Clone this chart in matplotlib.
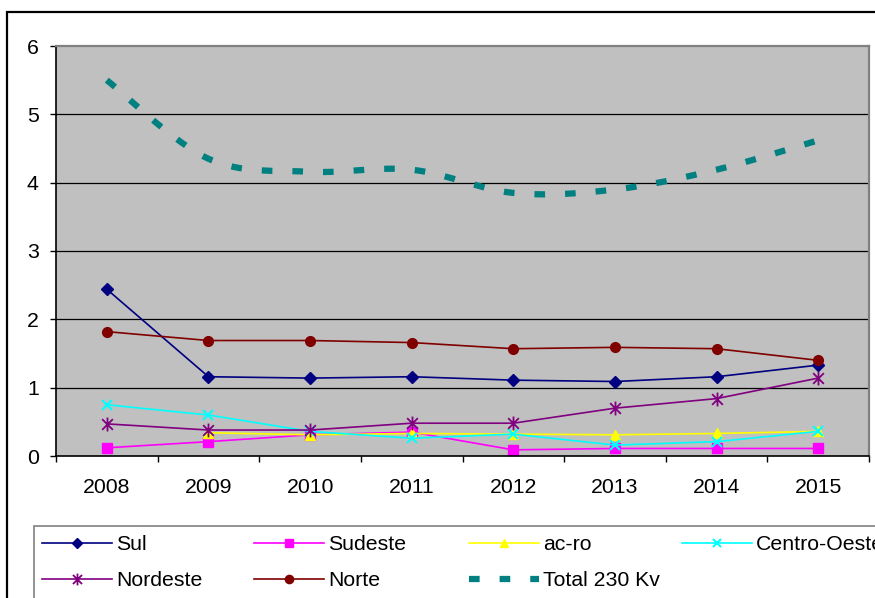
import numpy as np
import matplotlib
matplotlib.use("Agg")
import matplotlib.pyplot as plt
from matplotlib.path import Path
from matplotlib.patches import Rectangle
from matplotlib.ticker import FixedLocator

# ---- data ----
years = ["2008", "2009", "2010", "2011", "2012", "2013", "2014", "2015"]
sul = [2.44, 1.16, 1.14, 1.16, 1.11, 1.09, 1.16, 1.33]
sudeste = [0.12, 0.21, 0.31, 0.35, 0.09, 0.11, 0.11, 0.11]
acro = [None, 0.34, 0.31, 0.33, 0.32, 0.31, 0.33, 0.36]
centro_oeste = [0.75, 0.60, 0.36, 0.26, 0.32, 0.16, 0.21, 0.36]
nordeste = [0.47, 0.38, 0.38, 0.48, 0.48, 0.70, 0.84, 1.14]
norte = [1.82, 1.69, 1.69, 1.66, 1.57, 1.59, 1.57, 1.40]
total = [5.50, 4.35, 4.16, 4.19, 3.85, 3.90, 4.19, 4.62]
yticks = [0, 1, 2, 3, 4, 5, 6]

W, H = 875, 598
fig = plt.figure(figsize=(W / 100, H / 100), dpi=100)
plt.rcParams['font.family'] = ['Liberation Sans', 'DejaVu Sans']
FS = 15.3

def fx(px):
    return px / W

def fy(py):
    return 1 - py / H

L, R, T, B = 56, 869, 46, 456
ax = fig.add_axes([fx(L), fy(B), fx(R) - fx(L), fy(T) - fy(B)])
ax.set_facecolor('#C0C0C0')

x = np.arange(len(years))

def smooth(xs, ys, n=30):
    xs = np.asarray(xs, float)
    ys = np.asarray(ys, float)
    P = np.column_stack([xs, ys])
    P = np.vstack([P[0], P, P[-1]])
    out = []
    for i in range(1, len(P) - 2):
        p0, p1, p2, p3 = P[i - 1], P[i], P[i + 1], P[i + 2]
        t = np.linspace(0, 1, n)[:, None]
        c1 = p1 + (p2 - p0) / 6.0
        c2 = p2 - (p3 - p1) / 6.0
        seg = ((1 - t) ** 3) * p1 + 3 * ((1 - t) ** 2) * t * c1 + 3 * (1 - t) * t ** 2 * c2 + t ** 3 * p2
        out.append(seg if i == 1 else seg[1:])
    out = np.vstack(out)
    return out[:, 0], out[:, 1]

asterisk = Path([(-1, -1), (1, 1), (-1, 1), (1, -1), (0, -1.3), (0, 1.3)],
                [Path.MOVETO, Path.LINETO, Path.MOVETO, Path.LINETO, Path.MOVETO, Path.LINETO])

lw = 1.2
h_sul, = ax.plot(x, sul, color='#000080', lw=lw, marker='D', ms=5.8, label='Sul')
h_sud, = ax.plot(x, sudeste, color='#FF00FF', lw=lw, marker='s', ms=6.5, label='Sudeste')
acro_arr = np.array([np.nan if v is None else v for v in acro], float)
h_acro, = ax.plot(x, acro_arr, color='#FFFF00', lw=lw, marker='^', ms=7.5, label='ac-ro')
h_co, = ax.plot(x, centro_oeste, color='#00FFFF', lw=lw, marker='x', ms=7.5, mew=1.5, label='Centro-Oeste')
h_ne, = ax.plot(x, nordeste, color='#800080', lw=lw, marker=asterisk, ms=10, mew=1.3, label='Nordeste')
h_no, = ax.plot(x, norte, color='#800000', lw=lw, marker='o', ms=7, label='Norte')
sx, sy = smooth(x, total)
h_tot, = ax.plot(sx, sy, color='#008080', lw=4.5, dashes=(1.7, 3.2), dash_capstyle='butt',
                 label='Total 230 Kv')

ax.set_xlim(-0.5, len(years) - 0.5)
ax.set_ylim(0, 6)
ax.set_yticks(yticks)
ax.set_yticklabels([str(v) for v in yticks], fontsize=FS)
ax.set_xticks(x)
ax.set_xticklabels(years, fontsize=FS)
ax.xaxis.set_minor_locator(FixedLocator(np.arange(-0.5, len(years), 1.0)))
ax.tick_params(axis='x', which='major', length=0, pad=16)
ax.tick_params(axis='x', which='minor', length=4.5, width=1.0, color='black', direction='out')
ax.tick_params(axis='y', which='major', length=4.5, width=1.0, color='black', direction='out', pad=8)
for v in yticks[1:-1]:
    ax.axhline(v, color='black', lw=0.9, zorder=0.5)
ax.set_axisbelow(True)
for s in ['left', 'bottom']:
    ax.spines[s].set_color('black')
    ax.spines[s].set_linewidth(1.2)
for s in ['top', 'right']:
    ax.spines[s].set_color('#808080')
    ax.spines[s].set_linewidth(1.6)

# outer chart border
fig.add_artist(Rectangle((fx(6.5), -0.2), 2.0, fy(11.5) + 0.2, transform=fig.transFigure,
                         fill=False, edgecolor='black', lw=1.6, clip_on=False))
# legend box
fig.add_artist(Rectangle((fx(33.5), -0.2), 2.0, fy(526) + 0.2, transform=fig.transFigure,
                         fill=False, edgecolor='#808080', lw=1.2, clip_on=False))

entries = [
    (h_sul, 42, 545), (h_sud, 254, 545), (h_acro, 469, 545), (h_co, 682, 545),
    (h_ne, 42, 581), (h_no, 254, 581), (h_tot, 469, 581),
]
fs_px = FS * 100 / 72
for h, px, py in entries:
    fig.legend(handles=[h], labels=[h.get_label()], loc='center left',
               bbox_to_anchor=(fx(px), fy(py)), frameon=False, fontsize=FS,
               handlelength=70 / fs_px, handletextpad=0.2, borderpad=0, borderaxespad=0,
               numpoints=1, markerscale=0.85)

fig.savefig('out.png', dpi=100)
